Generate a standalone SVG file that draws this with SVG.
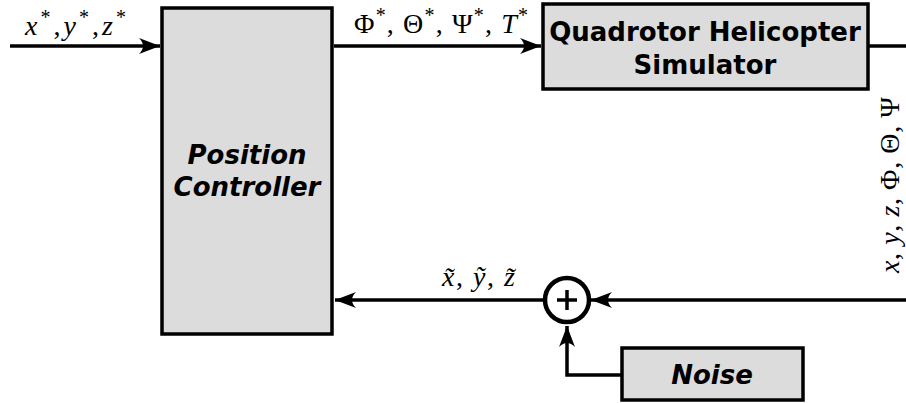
<svg xmlns="http://www.w3.org/2000/svg" width="906" height="403" viewBox="0 0 906 403">
<style>
.box{fill:#dcdcdc;stroke:#000;stroke-width:3.5}
.lbl{font-family:"DejaVu Sans",sans-serif;font-weight:bold;font-size:26px;fill:#000;text-anchor:middle}
.it{font-style:italic}
.math{font-family:"Liberation Serif","DejaVu Serif",serif;font-size:28px;fill:#000}
.sup{font-size:20px}
.wire{fill:none;stroke:#000;stroke-width:3.5}
</style>
<defs>
<marker id="ah" markerUnits="userSpaceOnUse" markerWidth="26" markerHeight="18" viewBox="-22 -9 26 18" refX="0" refY="0" orient="auto">
<path d="M0,0 L-21,-8 Q-13,0 -21,8 Z" fill="#000"/>
</marker>
</defs>
<g id="connectors">
<path class="wire" d="M10,46 H160" marker-end="url(#ah)"/>
<path class="wire" d="M334,46 H541" marker-end="url(#ah)"/>
<path class="wire" d="M868,46 H906"/>
<path class="wire" d="M906,300 H591" marker-end="url(#ah)"/>
<path class="wire" d="M545,300 H335" marker-end="url(#ah)"/>
<path class="wire" d="M622,375 H567 V326" marker-end="url(#ah)"/>
</g>
<g id="pos">
<rect class="box" x="162" y="8" width="170" height="326"/>
<text class="lbl it" x="247" y="164">Position</text>
<text class="lbl it" x="247" y="196">Controller</text>
</g>
<g id="sim">
<rect class="box" x="543" y="4" width="325" height="85"/>
<text class="lbl" x="705" y="41">Quadrotor Helicopter</text>
<text class="lbl" x="705" y="74">Simulator</text>
</g>
<g id="sum">
<circle cx="567" cy="300" r="22" fill="#fff" stroke="#000" stroke-width="4.5"/>
<path d="M567,290 V310 M557,300 H577" stroke="#000" stroke-width="3.5"/>
</g>
<g id="noise">
<rect class="box" x="622" y="348" width="181" height="52"/>
<text class="lbl it" x="712" y="384">Noise</text>
</g>
<g id="labels">
<text class="math" x="25" y="35" textLength="101" lengthAdjust="spacing"><tspan font-style="italic">x</tspan><tspan class="sup" dy="-11">*</tspan><tspan dy="11">,</tspan><tspan font-style="italic">y</tspan><tspan class="sup" dy="-11">*</tspan><tspan dy="11">,</tspan><tspan font-style="italic">z</tspan><tspan class="sup" dy="-11">*</tspan></text>
<text class="math" x="354" y="33" textLength="174" lengthAdjust="spacing">Φ<tspan class="sup" dy="-11">*</tspan><tspan dy="11">, Θ</tspan><tspan class="sup" dy="-11">*</tspan><tspan dy="11">, Ψ</tspan><tspan class="sup" dy="-11">*</tspan><tspan dy="11">, </tspan><tspan font-style="italic">T</tspan><tspan class="sup" dy="-11">*</tspan></text>
<text class="math" x="442" y="286" textLength="73" lengthAdjust="spacing"><tspan font-style="italic">x̃</tspan>, <tspan font-style="italic">ỹ</tspan>, <tspan font-style="italic">z̃</tspan></text>
<text class="math" transform="translate(899,273) rotate(-90)" textLength="176" lengthAdjust="spacing"><tspan font-style="italic">x</tspan>, <tspan font-style="italic">y</tspan>, <tspan font-style="italic">z</tspan>, Φ, Θ, Ψ</text>
</g>
</svg>
